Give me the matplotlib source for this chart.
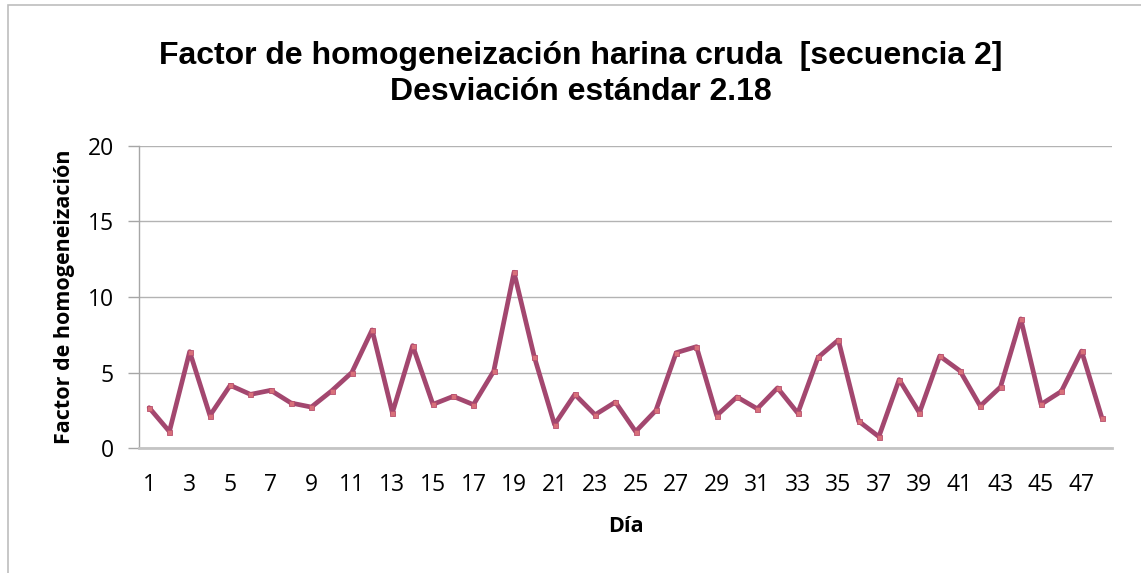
import matplotlib
matplotlib.use("Agg")
import matplotlib.pyplot as plt
from matplotlib.patches import Rectangle

days = list(range(1, 49))
factor = [2.67, 1.09, 6.38, 2.15, 4.15, 3.55, 3.82, 2.98, 2.71, 3.78,
          5.00, 7.82, 2.33, 6.78, 2.89, 3.42, 2.87, 5.09, 11.64, 6.04,
          1.55, 3.55, 2.20, 3.04, 1.09, 2.49, 6.31, 6.71, 2.15, 3.38,
          2.60, 3.98, 2.31, 6.00, 7.15, 1.78, 0.75, 4.53, 2.33, 6.09,
          5.11, 2.78, 4.04, 8.55, 2.89, 3.75, 6.42, 2.00]
y_ticks = [0, 5, 10, 15, 20]
title = "Factor de homogeneización harina cruda  [secuencia 2]\nDesviación estándar 2.18"
x_label = "Día"
y_label = "Factor de homogeneización"

W, H, DPI = 1141, 573, 100
fig = plt.figure(figsize=(W / DPI, H / DPI), dpi=DPI)
fig.patch.set_facecolor("white")

# chart frame
fig.add_artist(Rectangle((8 / W, -0.01), 1.2, (H - 5) / H + 0.01,
                         transform=fig.transFigure, fill=False,
                         edgecolor="#BDBDBD", linewidth=1.2))

left, right, top, bottom = 139, 1112, 146, 448
ax = fig.add_axes([left / W, 1 - bottom / H, (right - left) / W, (bottom - top) / H])

pos = list(range(len(days)))
ax.plot(pos, factor, color="#A3476F", linewidth=3.4, solid_joinstyle="round",
        solid_capstyle="round",
        marker="s", markersize=3.6, markerfacecolor="#D8707A",
        markeredgecolor="#B84F6E", markeredgewidth=0.6, zorder=3)

ax.set_xlim(-0.5, len(days) - 0.5)
ax.set_ylim(0, 20)
ax.set_yticks(y_ticks)
ax.set_yticklabels([str(v) for v in y_ticks])
ax.set_xticks(pos[::2])
ax.set_xticklabels([str(d) for d in days[::2]])

ax.grid(axis="y", color="#B3B3B3", linewidth=1.0)
ax.set_axisbelow(True)
for s in ["top", "right"]:
    ax.spines[s].set_visible(False)
ax.spines["left"].set_color("#A6A6A6")
ax.spines["left"].set_linewidth(1.0)
ax.spines["bottom"].set_color("#C4C4C4")
ax.spines["bottom"].set_linewidth(2.0)

tick_font = "Open Sans"
ax.tick_params(axis="y", length=8, width=1.0, color="#A6A6A6", pad=10,
               labelsize=16.5)
ax.tick_params(axis="x", length=0, pad=18, labelsize=16.5)
for lab in ax.get_xticklabels() + ax.get_yticklabels():
    lab.set_fontfamily(tick_font)

ax.set_xlabel(x_label, fontsize=15.5, fontweight="bold", family=tick_font, labelpad=14)
ax.set_ylabel(y_label, fontsize=15.5, fontweight="bold", family=tick_font, labelpad=9)

fig.text(0.5 + 10 / W, 1 - 74 / H, title, ha="center", va="center",
         fontsize=23, fontweight="bold", family="Liberation Sans", linespacing=1.3)

fig.savefig("out.png", dpi=DPI, facecolor="white")
